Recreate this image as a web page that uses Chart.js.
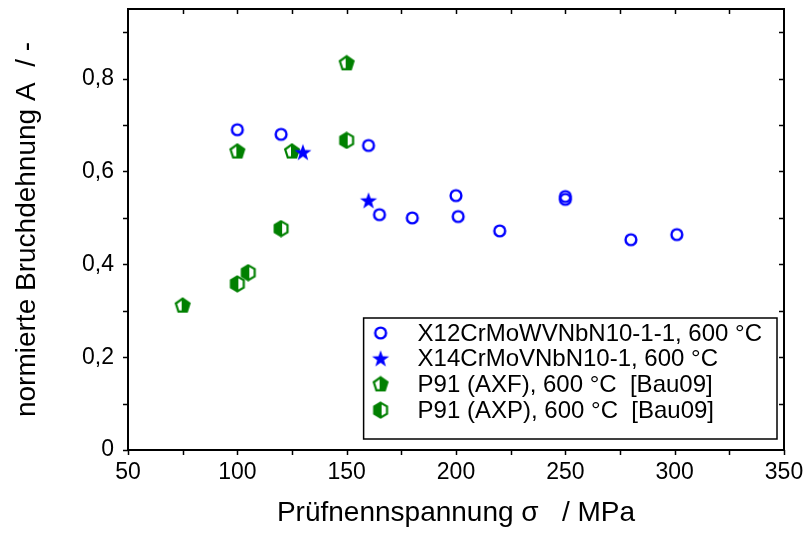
<!DOCTYPE html>
<html lang="de">
<head>
<meta charset="UTF-8">
<script src="https://cdn.jsdelivr.net/npm/chart.js"></script>
<title>Bruchdehnung</title>
<style>
  html, body { margin: 0; padding: 0; background: #fff; }
  #wrap { width: 809px; height: 533px; }
</style>
</head>
<body>
<div id="wrap"><canvas id="chart" width="809" height="533"></canvas></div>
<script>
// Daten
const x12Stress = [100, 120, 160, 165, 180, 200, 201, 220, 250, 250, 280, 301];
const x12Elong  = [0.690, 0.680, 0.656, 0.507, 0.500, 0.548, 0.503, 0.472, 0.546, 0.540, 0.453, 0.464];
const x14Stress = [130, 160];
const x14Elong  = [0.641, 0.537];
const axfStress = [75, 100, 125, 150];
const axfElong  = [0.311, 0.643, 0.643, 0.833];
const axpStress = [100, 105, 120, 150];
const axpElong  = [0.358, 0.382, 0.477, 0.667];
const seriesLabels = [
  'X12CrMoWVNbN10-1-1, 600 °C',
  'X14CrMoVNbN10-1, 600 °C',
  'P91 (AXF), 600 °C  [Bau09]',
  'P91 (AXP), 600 °C  [Bau09]'
];

const FONT = "'Liberation Sans', Arial, sans-serif";
const BLUE = '#0000ff';
const GREEN = '#008000';

function pts(xs, ys) { return xs.map((x, i) => ({ x: x, y: ys[i] })); }

function marker(size, draw) {
  const c = document.createElement('canvas');
  c.width = size; c.height = size;
  draw(c.getContext('2d'), size / 2);
  return c;
}
function polyPath(ctx, c, r, n, rot) {
  ctx.beginPath();
  for (let i = 0; i < n; i++) {
    const a = rot + i * 2 * Math.PI / n;
    const px = c + r * Math.cos(a), py = c + r * Math.sin(a);
    if (i === 0) ctx.moveTo(px, py); else ctx.lineTo(px, py);
  }
  ctx.closePath();
}

const circleImg = marker(16, (ctx, c) => {
  ctx.strokeStyle = BLUE; ctx.lineWidth = 2.4;
  ctx.beginPath(); ctx.arc(c, c, 5.4, 0, Math.PI * 2); ctx.stroke();
});
const starImg = marker(20, (ctx, c) => {
  ctx.fillStyle = BLUE;
  ctx.beginPath();
  for (let i = 0; i < 10; i++) {
    const r = i % 2 === 0 ? 9 : 3.6;
    const a = -Math.PI / 2 + i * Math.PI / 5;
    const px = c + r * Math.cos(a), py = c + 0.5 + r * Math.sin(a);
    if (i === 0) ctx.moveTo(px, py); else ctx.lineTo(px, py);
  }
  ctx.closePath(); ctx.fill();
});
const pentaImg = marker(18, (ctx, c) => {
  ctx.save();
  polyPath(ctx, c, 7.2, 5, -Math.PI / 2);
  ctx.clip();
  ctx.fillStyle = GREEN;
  ctx.fillRect(c - 1, 0, 18, 18);
  ctx.restore();
  polyPath(ctx, c, 7.2, 5, -Math.PI / 2);
  ctx.strokeStyle = GREEN; ctx.lineWidth = 2.2; ctx.stroke();
});
const hexaImg = marker(18, (ctx, c) => {
  ctx.save();
  polyPath(ctx, c, 7.4, 6, -Math.PI / 2);
  ctx.clip();
  ctx.fillStyle = GREEN;
  ctx.fillRect(0, 0, c + 1, 18);
  ctx.restore();
  polyPath(ctx, c, 7.4, 6, -Math.PI / 2);
  ctx.strokeStyle = GREEN; ctx.lineWidth = 2.2; ctx.stroke();
});
const markerImgs = [circleImg, starImg, pentaImg, hexaImg];

// Rahmen + Teilstriche
const framePlugin = {
  id: 'frame',
  beforeDatasetsDraw(chart) {
    const { ctx, chartArea: a, scales } = chart;
    ctx.save();
    ctx.strokeStyle = '#000';
    ctx.lineWidth = 1.5;
    ctx.beginPath();
    for (let v = 50; v <= 350; v += 25) {
      const px = Math.round(scales.x.getPixelForValue(v)) + 0.5;
      ctx.moveTo(px, a.bottom); ctx.lineTo(px, a.bottom + 5);
      if (v > 50 && v < 350) { ctx.moveTo(px, a.top); ctx.lineTo(px, a.top + 5); }
    }
    for (let i = 0; i <= 9; i++) {
      const py = Math.round(scales.y.getPixelForValue(i / 10)) + 0.5;
      ctx.moveTo(a.left, py); ctx.lineTo(a.left - 5, py);
      if (i > 0) { ctx.moveTo(a.right, py); ctx.lineTo(a.right - 5, py); }
    }
    ctx.stroke();
    ctx.lineWidth = 2;
    ctx.strokeRect(a.left, a.top, a.right - a.left, a.bottom - a.top);
    ctx.restore();
  }
};

// Legende im Diagramm
const legendPlugin = {
  id: 'innerLegend',
  afterDraw(chart) {
    const { ctx, chartArea: a } = chart;
    ctx.save();
    ctx.font = '24px ' + FONT;
    let maxW = 0;
    chart.data.datasets.forEach(d => { maxW = Math.max(maxW, ctx.measureText(d.label).width); });
    const w = 54 + maxW + 15;
    const h = 121;
    const right = a.right - 7, bottom = a.bottom - 11;
    const left = right - w, top = bottom - h;
    ctx.fillStyle = '#fff';
    ctx.fillRect(left, top, w, h);
    ctx.strokeStyle = '#000'; ctx.lineWidth = 1.5;
    ctx.strokeRect(left, top, w, h);
    ctx.fillStyle = '#000';
    ctx.textBaseline = 'middle';
    chart.data.datasets.forEach((d, i) => {
      const cy = top + 15 + i * 25.7;
      const img = markerImgs[i];
      ctx.drawImage(img, left + 17 - img.width / 2, cy - img.height / 2);
      ctx.fillText(d.label, left + 54, cy + 1);
    });
    ctx.restore();
  }
};

new Chart(document.getElementById('chart'), {
  type: 'scatter',
  data: {
    datasets: [
      { label: seriesLabels[0], data: pts(x12Stress, x12Elong), pointStyle: circleImg },
      { label: seriesLabels[1], data: pts(x14Stress, x14Elong), pointStyle: starImg },
      { label: seriesLabels[2], data: pts(axfStress, axfElong), pointStyle: pentaImg },
      { label: seriesLabels[3], data: pts(axpStress, axpElong), pointStyle: hexaImg }
    ]
  },
  options: {
    responsive: false,
    animation: false,
    layout: { padding: { top: 9, right: 25, left: 0, bottom: 0 } },
    plugins: { legend: { display: false }, tooltip: { enabled: false } },
    scales: {
      x: {
        type: 'linear', min: 50, max: 350,
        grid: { display: false, drawTicks: false },
        border: { display: false },
        ticks: { stepSize: 50, padding: 9, color: '#000', font: { family: FONT, size: 23 } },
        title: { display: true, text: 'Prüfnennspannung σ   / MPa', color: '#000',
                 font: { family: FONT, size: 28 }, padding: { top: 0, bottom: 3 } },
        afterFit(s) { s.height = 83; s.paddingLeft = 0; s.paddingRight = 0; }
      },
      y: {
        type: 'linear', min: 0, max: 0.95,
        grid: { display: false, drawTicks: false },
        border: { display: false },
        ticks: {
          stepSize: 0.2, padding: 14, color: '#000', font: { family: FONT, size: 23 },
          callback: v => {
            const r = Math.round(v * 10);
            if (Math.abs(v * 10 - r) > 1e-6 || r % 2 !== 0) return '';
            return r === 0 ? '0' : (r / 10).toFixed(1).replace('.', ',');
          }
        },
        title: { display: true, text: 'normierte Bruchdehnung A  / -', color: '#000',
                 font: { family: FONT, size: 28 }, padding: { top: 10, bottom: 0 } },
        afterFit(s) { s.width = 128; s.paddingTop = 0; s.paddingBottom = 0; }
      }
    }
  },
  plugins: [framePlugin, legendPlugin]
});
</script>
</body>
</html>
